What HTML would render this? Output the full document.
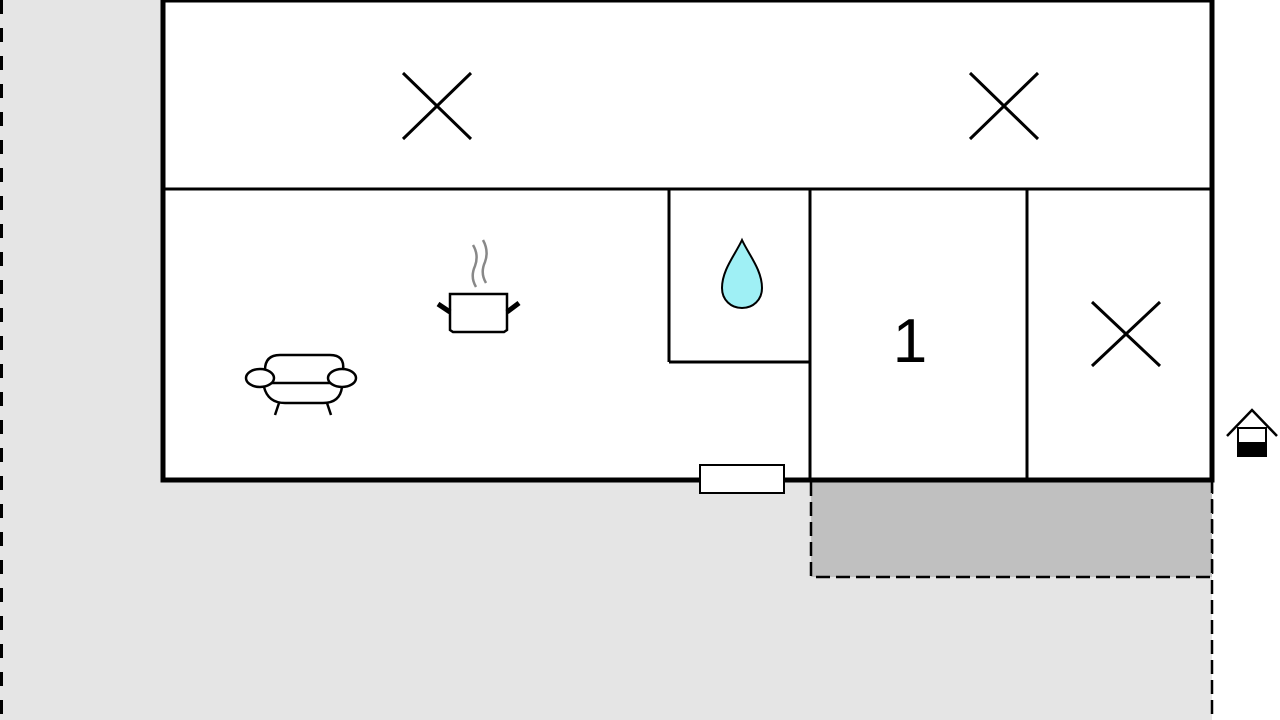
<!DOCTYPE html><html><head><style>body{margin:0;background:#fff}svg{display:block}</style></head><body>
<svg width="1280" height="720" viewBox="0 0 1280 720" xmlns="http://www.w3.org/2000/svg">
<rect x="0" y="0" width="1212" height="720" fill="#e5e5e5"/>
<rect x="1212" y="0" width="68" height="720" fill="#fff"/>
<line x1="1.5" y1="0" x2="1.5" y2="720" stroke="#000" stroke-width="3" stroke-dasharray="14,14"/>
<line x1="1212" y1="480" x2="1212" y2="720" stroke="#000" stroke-width="2.5" stroke-dasharray="14,6"/>
<rect x="811" y="480" width="401" height="97" fill="#c0c0c0" stroke="#000" stroke-width="2.5" stroke-dasharray="14,6"/>
<rect x="163" y="0" width="1049" height="480" fill="#fff" stroke="#000" stroke-width="5"/>
<g stroke="#000" stroke-width="3" fill="none">
<line x1="163" y1="189" x2="1212" y2="189"/>
<line x1="669" y1="189" x2="669" y2="362"/>
<line x1="669" y1="362" x2="810" y2="362"/>
<line x1="810" y1="189" x2="810" y2="480"/>
<line x1="1027" y1="189" x2="1027" y2="480"/>
<path d="M403 73L471 139M471 73L403 139"/>
<path d="M970 73L1038 139M1038 73L970 139"/>
<path d="M1092 302L1160 366M1160 302L1092 366"/>
</g>
<rect x="700" y="465" width="84" height="28" fill="#fff" stroke="#000" stroke-width="2"/>
<path d="M742 240C735 255 722 270 722 288C722 300 731 308 742 308C753 308 762 300 762 288C762 270 749 255 742 240Z" fill="#9ff0f5" stroke="#000" stroke-width="2"/>
<text x="910" y="362" font-family="Liberation Sans, sans-serif" font-size="62" text-anchor="middle">1</text>
<g stroke="#000" stroke-width="2.5" fill="none">
<path d="M450 294H507V330L504 332H453L450 330Z"/>
<path d="M265 370Q265 355 280 355H330Q345 355 343 370"/>
<ellipse cx="260" cy="378" rx="14" ry="9"/>
<ellipse cx="342" cy="378" rx="14" ry="9"/>
<path d="M264 387Q268 403 285 403H323Q340 403 342 387"/>
<line x1="272" y1="383" x2="330" y2="383"/>
<path d="M279 403L275 415M327 403L331 415"/>
</g>
<path d="M438 304L450 312M519 303L507 312" stroke="#000" stroke-width="5"/>
<path d="M476 287Q470 277 475 266Q479 255 473 245M486 283Q480 273 485 262Q489 251 483 240" stroke="#888" stroke-width="2.5" fill="none"/>
<path d="M1227 436L1252 410L1277 436" stroke="#000" stroke-width="2.5" fill="none"/>
<rect x="1238" y="428" width="28" height="28" fill="#fff" stroke="#000" stroke-width="2"/>
<rect x="1238" y="442" width="28" height="14" fill="#000"/>
</svg></body></html>
